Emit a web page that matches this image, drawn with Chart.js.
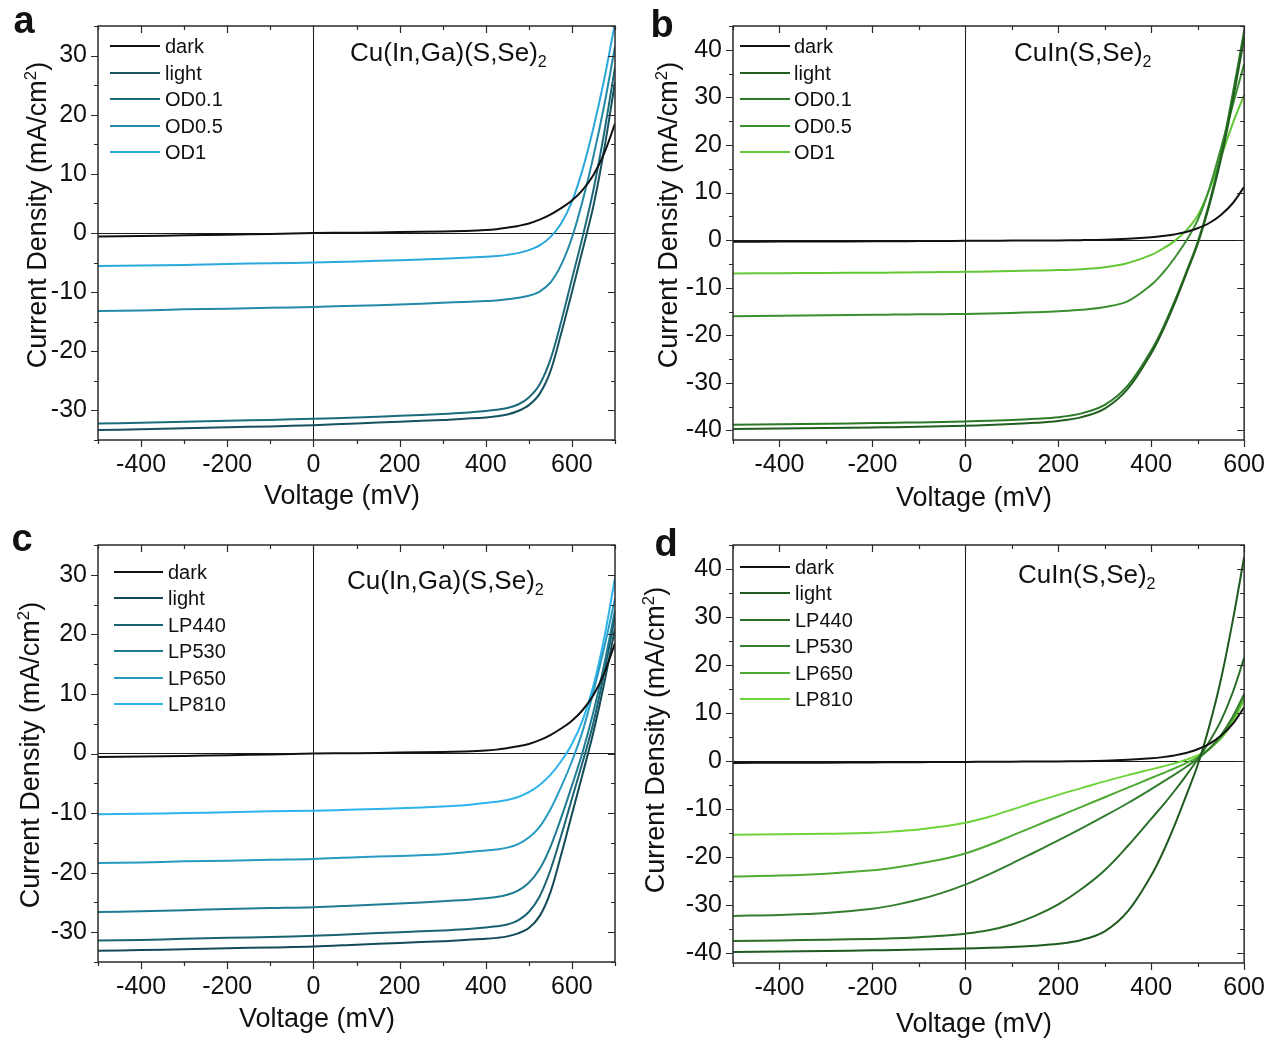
<!DOCTYPE html>
<html>
<head>
<meta charset="utf-8">
<script src="https://cdn.jsdelivr.net/npm/chart.js@4.4.0/dist/chart.umd.min.js"></script>
<style>
  body { margin:0; background:#fff; width:1275px; height:1038px; position:relative; overflow:hidden;
         font-family:"Liberation Sans", Arial, sans-serif; color:#111; }
  .t { position:absolute; white-space:nowrap; line-height:1; }
  .lg { position:absolute; height:0; border-top:2px solid #000; }
  sub { font-size:62%; vertical-align:-0.35em; line-height:0; }
  sup { font-size:62%; vertical-align:0.55em; line-height:0; }
</style>
</head>
<body>
<script>
// voltage grids (mV)
const vCIGS = [-500,-400,-300,-200,-100,0,100,200,300,350,400,425,450,475,500,525,550,575,600,625,650,675,700];
const vCIS  = [-500,-400,-300,-200,-150,-100,-50,0,50,100,150,200,250,300,350,400,425,450,475,500,525,550,575,600];

// tick labels
const xTicksCIGS = [-400,-200,0,200,400,600];
const xTicksCIS  = [-400,-200,0,200,400,600];
const yTicksCIGS = [-30,-20,-10,0,10,20,30];
const yTicksCIS  = [-40,-30,-20,-10,0,10,20,30,40];

// Cu(In,Ga)(S,Se)2 current densities (mA/cm2)
const jDarkCIGS = [-0.6,-0.5,-0.4,-0.3,-0.15,0,0.05,0.15,0.25,0.35,0.5,0.65,0.9,1.2,1.6,2.25,3.1,4.2,5.5,7.3,9.8,13.5,18.5];
const jLightA   = [-33.3,-33.2,-33.0,-32.85,-32.7,-32.5,-32.2,-31.9,-31.6,-31.4,-31.2,-31.0,-30.7,-30.1,-29.1,-27.2,-23.4,-17.0,-10.0,-2.8,4.6,14.2,25.5];
const jOD01     = [-32.2,-32.1,-31.9,-31.75,-31.6,-31.4,-31.2,-30.9,-30.6,-30.4,-30.1,-29.9,-29.6,-29.0,-27.8,-25.6,-21.4,-15.0,-7.8,-0.6,7.3,17.0,28.0];
const jOD05     = [-13.2,-13.1,-12.9,-12.8,-12.65,-12.5,-12.3,-12.1,-11.8,-11.65,-11.5,-11.4,-11.2,-10.95,-10.6,-9.9,-8.4,-5.4,-0.8,5.5,13.0,21.6,31.5];
const jOD1      = [-5.6,-5.5,-5.4,-5.25,-5.1,-5.0,-4.8,-4.6,-4.35,-4.2,-4.0,-3.9,-3.7,-3.4,-2.9,-2.1,-0.7,1.6,5.3,10.8,17.8,26.0,35.5];
const jLightC   = [-33.1,-33.0,-32.85,-32.7,-32.55,-32.4,-32.1,-31.8,-31.5,-31.3,-31.1,-30.95,-30.7,-30.2,-29.3,-27.3,-23.3,-17.0,-10.2,-3.4,3.6,11.8,21.0];
const jLP440C   = [-31.4,-31.3,-31.1,-30.95,-30.8,-30.6,-30.3,-30.0,-29.7,-29.5,-29.2,-29.0,-28.7,-28.0,-26.6,-24.0,-19.6,-13.8,-7.6,-1.4,5.2,13.6,23.0];
const jLP530C   = [-26.6,-26.5,-26.3,-26.1,-25.95,-25.8,-25.5,-25.2,-24.8,-24.6,-24.3,-24.1,-23.7,-23.0,-21.7,-19.4,-15.7,-10.8,-5.4,0.3,7.0,15.0,24.0];
const jLP650C   = [-18.4,-18.3,-18.1,-18.0,-17.85,-17.7,-17.4,-17.2,-16.9,-16.6,-16.3,-16.1,-15.8,-15.2,-14.1,-12.3,-9.4,-5.6,-1.3,3.8,10.4,17.8,26.0];
const jLP810C   = [-10.2,-10.1,-10.0,-9.85,-9.7,-9.6,-9.4,-9.2,-8.9,-8.7,-8.3,-8.1,-7.8,-7.3,-6.5,-5.3,-3.6,-1.3,1.6,5.6,11.4,19.4,29.5];

// CuIn(S,Se)2 current densities (mA/cm2)
const jDarkCIS  = [-0.35,-0.3,-0.3,-0.25,-0.22,-0.2,-0.17,-0.15,-0.12,-0.1,-0.07,-0.05,0,0.1,0.3,0.6,0.85,1.2,1.7,2.5,3.6,5.3,7.7,11.2];
const jLightCIS = [-39.7,-39.6,-39.5,-39.35,-39.3,-39.2,-39.1,-39.0,-38.85,-38.65,-38.4,-38.0,-37.2,-35.4,-31.2,-23.8,-19.0,-13.4,-7.2,-0.8,7.3,17.0,29.0,42.5];
const jOD01CIS  = [-38.8,-38.7,-38.6,-38.45,-38.38,-38.3,-38.2,-38.1,-37.95,-37.8,-37.55,-37.2,-36.4,-34.6,-30.5,-23.2,-18.5,-12.9,-6.8,-0.4,7.8,18.0,30.5,44.0];
const jOD05CIS  = [-16.0,-15.9,-15.8,-15.7,-15.65,-15.6,-15.55,-15.5,-15.4,-15.3,-15.15,-14.95,-14.65,-14.05,-12.8,-9.4,-6.9,-3.8,-0.2,4.2,10.8,19.3,28.2,37.0];
const jOD1CIS   = [-7.0,-6.95,-6.9,-6.85,-6.8,-6.75,-6.7,-6.65,-6.6,-6.5,-6.4,-6.3,-6.1,-5.7,-4.8,-3.1,-1.8,-0.2,2.0,5.2,10.6,17.4,24.4,30.5];
const jLP440CIS = [-37.4,-37.3,-37.15,-37.0,-36.85,-36.65,-36.35,-35.9,-35.2,-34.0,-32.2,-29.8,-26.6,-22.7,-17.6,-12.0,-9.2,-6.2,-3.0,0.4,4.1,8.4,14.2,21.5];
const jLP530CIS = [-32.2,-32.0,-31.6,-30.7,-29.9,-28.8,-27.4,-25.7,-23.6,-21.3,-18.9,-16.5,-14.0,-11.4,-8.7,-5.8,-4.3,-2.8,-1.2,0.5,2.6,5.4,9.2,14.0];
const jLP650CIS = [-24.0,-23.8,-23.4,-22.7,-22.1,-21.3,-20.4,-19.2,-17.5,-15.5,-13.5,-11.5,-9.5,-7.5,-5.5,-3.5,-2.5,-1.5,-0.4,0.8,2.5,5.0,8.7,13.5];
const jLP810CIS = [-15.3,-15.2,-15.1,-14.9,-14.6,-14.2,-13.6,-12.8,-11.6,-10.1,-8.5,-7.0,-5.6,-4.2,-2.9,-1.7,-1.1,-0.45,0.3,1.2,2.6,4.7,8.0,12.8];

const FONT = '"Liberation Sans", Arial, sans-serif';

const panels = [
  { letter:'a', left:0, top:0, w:637, h:519, area:{l:98, t:22, r:615, b:440},
    v:vCIGS, xMin:-500, xMax:700, yMin:-35, yMax:35, xLab:xTicksCIGS, yLab:yTicksCIGS,
    series:[['dark',jDarkCIGS,'#111111'],['light',jLightA,'#17525f'],['OD0.1',jOD01,'#1c6b7d'],
            ['OD0.5',jOD05,'#2389a6'],['OD1',jOD1,'#2ba9dc']],
    formula:'Cu(In,Ga)(S,Se)', fx:350, fy:52, letterPos:[24,20], yTitle:[37,215], xTitle:[342,495],
    legend:{x1:110, x2:160, tx:165, y0:46, dy:26.5} },
  { letter:'b', left:637, top:0, w:638, h:519, area:{l:96, t:22, r:611, b:440},
    v:vCIS, xMin:-500, xMax:600, yMin:-42, yMax:45, xLab:xTicksCIS, yLab:yTicksCIS,
    series:[['dark',jDarkCIS,'#111111'],['light',jLightCIS,'#215e1f'],['OD0.1',jOD01CIS,'#2c7a26'],
            ['OD0.5',jOD05CIS,'#3a8f2e'],['OD1',jOD1CIS,'#63c733']],
    formula:'CuIn(S,Se)', fx:1014, fy:52, letterPos:[662,24], yTitle:[668,215], xTitle:[974,497],
    legend:{x1:740, x2:790, tx:794, y0:46, dy:26.5} },
  { letter:'c', left:0, top:519, w:637, h:519, area:{l:98, t:26, r:615, b:443},
    v:vCIGS, xMin:-500, xMax:700, yMin:-35, yMax:35, xLab:xTicksCIGS, yLab:yTicksCIGS,
    series:[['dark',jDarkCIGS,'#111111'],['light',jLightC,'#134a57'],['LP440',jLP440C,'#1a6373'],
            ['LP530',jLP530C,'#1f7d93'],['LP650',jLP650C,'#279bc2'],['LP810',jLP810C,'#2db4ea']],
    formula:'Cu(In,Ga)(S,Se)', fx:347, fy:580, letterPos:[22,538], yTitle:[30,755], xTitle:[317,1018],
    legend:{x1:114, x2:163, tx:168, y0:572, dy:26.4} },
  { letter:'d', left:637, top:519, w:638, h:519, area:{l:96, t:26, r:611, b:444},
    v:vCIS, xMin:-500, xMax:600, yMin:-42, yMax:45, xLab:xTicksCIS, yLab:yTicksCIS,
    series:[['dark',jDarkCIS,'#111111'],['light',jLightCIS,'#1f5a1e'],['LP440',jLP440CIS,'#2a6f27'],
            ['LP530',jLP530CIS,'#347f2f'],['LP650',jLP650CIS,'#4faa33'],['LP810',jLP810CIS,'#6fd43c']],
    formula:'CuIn(S,Se)', fx:1018, fy:574, letterPos:[666,543], yTitle:[655,740], xTitle:[974,1023],
    legend:{x1:740, x2:790, tx:795, y0:567, dy:26.4} }
];

// frame + Origin-style ticks (out on left/bottom, in on top/right)
const framePlugin = {
  id: 'frame',
  afterDraw(chart) {
    const { ctx, chartArea: a, scales: { x, y } } = chart;
    ctx.save();
    ctx.strokeStyle = '#2a2a2a';
    ctx.lineWidth = 1.2;
    ctx.beginPath();
    x.ticks.forEach(t => {
      const px = Math.round(x.getPixelForValue(t.value)) + 0.5;
      const len = t.label ? 7 : 4;
      ctx.moveTo(px, a.bottom); ctx.lineTo(px, a.bottom + len);
      ctx.moveTo(px, a.top); ctx.lineTo(px, a.top + len);
    });
    y.ticks.forEach(t => {
      const py = Math.round(y.getPixelForValue(t.value)) + 0.5;
      const len = t.label ? 7 : 4;
      ctx.moveTo(a.left, py); ctx.lineTo(a.left - len, py);
      ctx.moveTo(a.right, py); ctx.lineTo(a.right - len, py);
    });
    ctx.stroke();
    ctx.lineWidth = 1.5;
    ctx.strokeRect(a.left, a.top, a.right - a.left, a.bottom - a.top);
    ctx.restore();
  }
};

function steps(from, to, step) {
  const out = [];
  for (let v = from; v <= to; v += step) out.push(v);
  return out;
}

function addText(html, x, y, css, center) {
  const d = document.createElement('div');
  d.className = 't';
  d.innerHTML = html;
  d.style.cssText += `left:${x}px;top:${y}px;` + css;
  d.style.transform = center || 'translate(-50%,-50%)';
  document.body.appendChild(d);
  return d;
}

function draw(p) {
  const cv = document.createElement('canvas');
  cv.width = p.w; cv.height = p.h;
  cv.style.cssText = `position:absolute;left:${p.left}px;top:${p.top}px;width:${p.w}px;height:${p.h}px`;
  document.body.appendChild(cv);

  const xs = steps(p.xMin, p.xMax, 100);
  const ys = steps(Math.ceil(p.yMin / 5) * 5, p.yMax, 5);
  const zeroLine = c => (c.tick && c.tick.value === 0) ? '#1a1a1a' : 'rgba(0,0,0,0)';

  new Chart(cv.getContext('2d'), {
    type: 'line',
    data: {
      datasets: p.series.map(s => ({
        label: s[0],
        data: p.v.map((v, i) => ({ x: v, y: s[1][i] })),
        borderColor: s[2],
        borderWidth: 2,
        pointRadius: 0,
        fill: false,
        tension: 0.35
      }))
    },
    options: {
      responsive: false,
      animation: false,
      devicePixelRatio: 1,
      layout: { padding: { left: 0, top: p.area.t, right: p.w - p.area.r, bottom: 0 } },
      plugins: { legend: { display: false }, tooltip: { enabled: false } },
      scales: {
        x: {
          type: 'linear', min: p.xMin, max: p.xMax,
          afterBuildTicks: sc => { sc.ticks = xs.map(v => ({ value: v })); },
          afterFit: sc => { sc.height = p.h - p.area.b; },
          ticks: { autoSkip: false, maxRotation: 0, padding: 10, color: '#111',
                   font: { family: FONT, size: 25 },
                   callback: v => p.xLab.includes(v) ? String(v) : '' },
          grid: { drawTicks: false, color: zeroLine, lineWidth: 1 },
          border: { display: false }
        },
        y: {
          type: 'linear', min: p.yMin, max: p.yMax,
          afterBuildTicks: sc => { sc.ticks = ys.map(v => ({ value: v })); },
          afterFit: sc => { sc.width = p.area.l; },
          ticks: { autoSkip: false, padding: 11, color: '#111',
                   font: { family: FONT, size: 25 },
                   callback: v => p.yLab.includes(v) ? String(v) : '' },
          grid: { drawTicks: false, color: zeroLine, lineWidth: 1 },
          border: { display: false }
        }
      }
    },
    plugins: [framePlugin]
  });

  // legend
  const L = p.legend;
  p.series.forEach((s, i) => {
    const y = L.y0 + i * L.dy;
    const ln = document.createElement('div');
    ln.className = 'lg';
    ln.style.cssText += `left:${L.x1}px;width:${L.x2 - L.x1}px;top:${y - 1}px;border-top-color:${s[2]}`;
    document.body.appendChild(ln);
    addText(s[0], L.tx, y, 'font-size:20px;', 'translate(0,-50%)');
  });

  addText(p.formula + '<sub>2</sub>', p.fx, p.fy, 'font-size:26px;', 'translate(0,-50%)');
  addText(p.letter, p.letterPos[0], p.letterPos[1], 'font-size:38px;font-weight:bold;');
  addText('Current Density (mA/cm<sup>2</sup>)', p.yTitle[0], p.yTitle[1], 'font-size:27px;',
          'translate(-50%,-50%) rotate(-90deg)');
  addText('Voltage (mV)', p.xTitle[0], p.xTitle[1], 'font-size:27px;');
}

panels.forEach(draw);
</script>
</body>
</html>
